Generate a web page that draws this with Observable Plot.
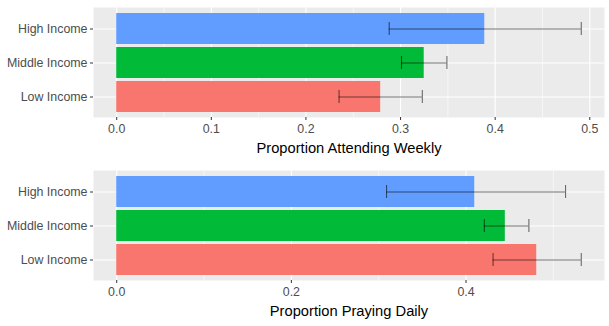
<!DOCTYPE html>
<html>
<head>
<meta charset="utf-8">
<script src="https://cdn.jsdelivr.net/npm/d3@7"></script>
<script src="https://cdn.jsdelivr.net/npm/@observablehq/plot@0.6"></script>
<style>
  html, body { margin: 0; padding: 0; background: #fff; }
  #chart svg { display: block; }
</style>
</head>
<body>
<div id="chart"></div>
<script>
const categories = ["Low Income", "Middle Income", "High Income"];
const colors = ["#F8766D", "#00BA38", "#619CFF"];

const attendProp = [0.279, 0.325, 0.389];
const attendLo   = [0.235, 0.301, 0.288];
const attendHi   = [0.323, 0.349, 0.491];

const prayProp = [0.481, 0.445, 0.410];
const prayLo   = [0.431, 0.421, 0.309];
const prayHi   = [0.532, 0.472, 0.514];

const attendTicks = [0, 0.1, 0.2, 0.3, 0.4, 0.5];
const attendMinor = [0.05, 0.15, 0.25, 0.35, 0.45];
const prayTicks = [0, 0.2, 0.4];
const prayMinor = [0.1, 0.3, 0.5];

function panel(prop, lo, hi, ticks, minor, title) {
  const data = categories.map((c, i) => ({cat: c, p: prop[i], lo: lo[i], hi: hi[i]}));
  const maxV = d3.max(data, d => Math.max(d.p, d.hi));
  const pad = maxV * 0.05;
  return Plot.plot({
    width: 609,
    height: 163,
    marginLeft: 93,
    marginRight: 5,
    marginTop: 7,
    marginBottom: 46,
    style: {fontFamily: "'Liberation Sans', Arial, sans-serif", background: "transparent"},
    x: {domain: [-pad, maxV + pad]},
    y: {domain: categories.slice().reverse(), paddingInner: 0.1, paddingOuter: 0.15},
    color: {domain: categories, range: colors},
    marks: [
      Plot.frame({fill: "#EBEBEB", stroke: null}),
      Plot.ruleX(minor, {stroke: "white", strokeWidth: 0.55}),
      Plot.gridX(ticks, {stroke: "white", strokeOpacity: 1, strokeWidth: 1.1}),
      Plot.gridY({stroke: "white", strokeOpacity: 1, strokeWidth: 1.1}),
      Plot.barX(data, {x: "p", y: "cat", fill: "cat"}),
      Plot.ruleY(data, {y: "cat", x1: "lo", x2: "hi", stroke: "black", strokeOpacity: 0.55, strokeWidth: 1.1}),
      Plot.tickX(data, {x: "lo", y: "cat", stroke: "black", strokeOpacity: 0.55, strokeWidth: 1.1, insetTop: 9, insetBottom: 9}),
      Plot.tickX(data, {x: "hi", y: "cat", stroke: "black", strokeOpacity: 0.55, strokeWidth: 1.1, insetTop: 9, insetBottom: 9}),
      Plot.axisX({ticks: ticks, tickFormat: d3.format(".1f"), tickSize: 3, tickPadding: 4, stroke: "#333333", fill: "#4D4D4D", fontSize: 12.4, label: null}),
      Plot.axisX({ticks: [], tickSize: 0, label: title, labelAnchor: "center", labelArrow: "none", labelOffset: 35, fill: "black", fontSize: 14.7}),
      Plot.axisY({tickSize: 3, tickPadding: 3, stroke: "#333333", fill: "#4D4D4D", fontSize: 12.4, label: null})
    ]
  });
}

const chart = document.getElementById("chart");
chart.appendChild(panel(attendProp, attendLo, attendHi, attendTicks, attendMinor, "Proportion Attending Weekly"));
chart.appendChild(panel(prayProp, prayLo, prayHi, prayTicks, prayMinor, "Proportion Praying Daily"));
</script>
</body>
</html>
